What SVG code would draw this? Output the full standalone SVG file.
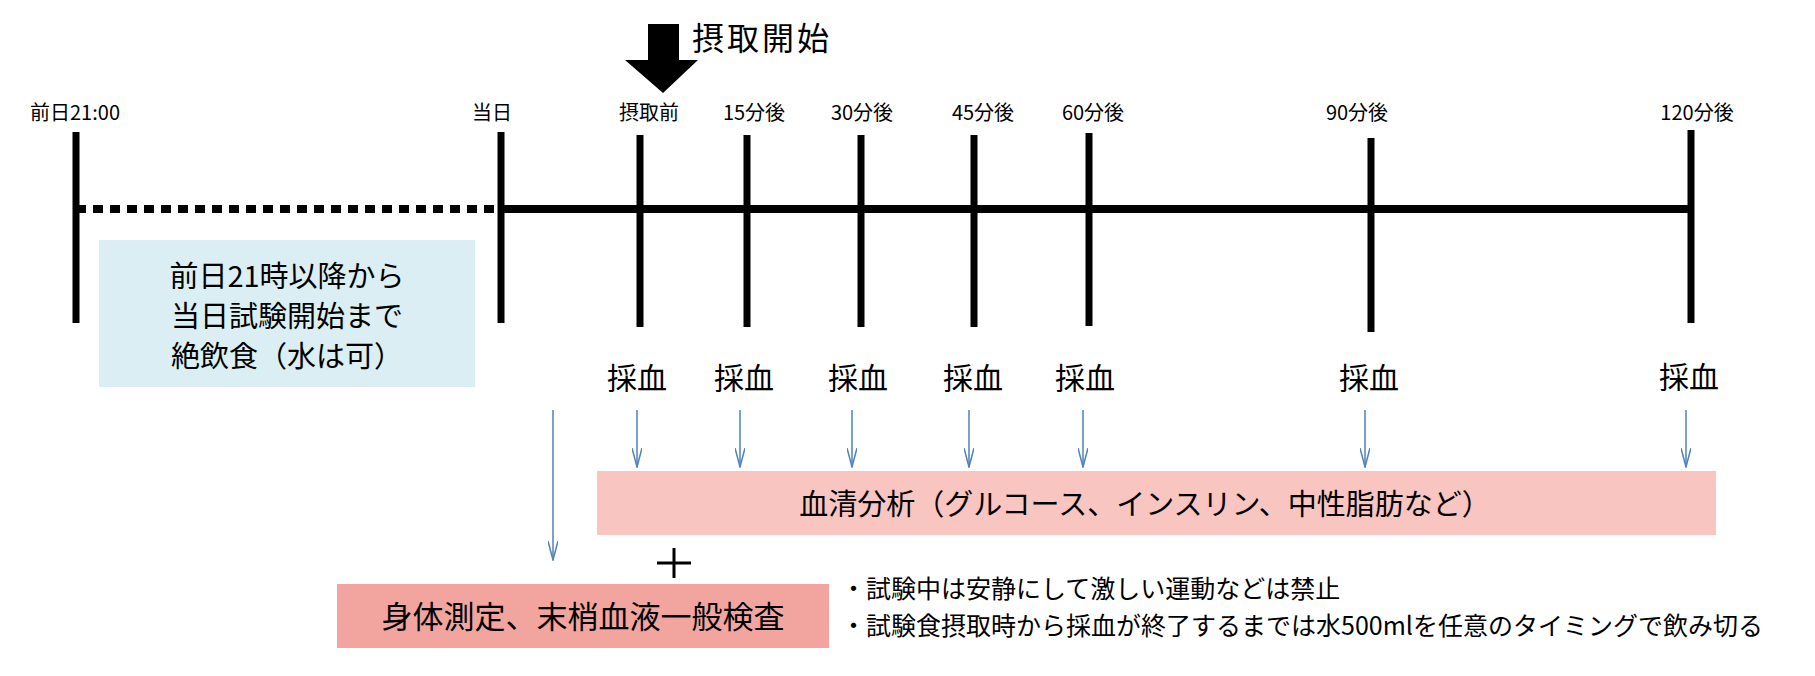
<svg xmlns="http://www.w3.org/2000/svg" width="1815" height="676" viewBox="0 0 1815 676">
<style>
text{font-family:"Noto Sans CJK JP","Liberation Sans",sans-serif;fill:#000}
.lbl{font-size:20px;text-anchor:middle}
.sai{font-size:30px;text-anchor:middle}
.tick{stroke:#000;stroke-width:7}
.ba{stroke:#4F81BD;stroke-width:1.5;fill:none;marker-end:url(#v)}
</style>
<defs>
<marker id="v" markerWidth="20" markerHeight="10" refX="19" refY="5" orient="auto" markerUnits="userSpaceOnUse" viewBox="0 0 20 10">
<path d="M0,0 L19,5 L0,10" fill="none" stroke="#4F81BD" stroke-width="1.5"/>
</marker>
</defs>
<rect width="1815" height="676" fill="#fff"/>
<g id="connectors">
<line x1="76" y1="209" x2="501" y2="209" stroke="#000" stroke-width="8" stroke-dasharray="10,7"/>
<line x1="501" y1="209" x2="1691" y2="209" stroke="#000" stroke-width="8"/>
<line class="tick" x1="76" y1="132" x2="76" y2="323"/>
<line class="tick" x1="501" y1="132" x2="501" y2="323"/>
<line class="tick" x1="640" y1="135" x2="640" y2="327"/>
<line class="tick" x1="747" y1="135" x2="747" y2="327"/>
<line class="tick" x1="861" y1="135" x2="861" y2="327"/>
<line class="tick" x1="974" y1="135" x2="974" y2="327"/>
<line class="tick" x1="1089" y1="133" x2="1089" y2="326"/>
<line class="tick" x1="1371" y1="138" x2="1371" y2="332"/>
<line class="tick" x1="1691" y1="130" x2="1691" y2="323"/>
<path d="M648,24 H679 V60 H698 L663,93 L625,60 H648 Z" fill="#000"/>
<line class="ba" x1="553" y1="410" x2="553" y2="560"/>
<line class="ba" x1="637" y1="410" x2="637" y2="467"/>
<line class="ba" x1="740" y1="410" x2="740" y2="467"/>
<line class="ba" x1="852" y1="410" x2="852" y2="467"/>
<line class="ba" x1="969" y1="410" x2="969" y2="467"/>
<line class="ba" x1="1083" y1="410" x2="1083" y2="467"/>
<line class="ba" x1="1365" y1="410" x2="1365" y2="467"/>
<line class="ba" x1="1686" y1="410" x2="1686" y2="467"/>
</g>
<g id="labels">
<text class="lbl" x="75" y="120">前日21:00</text>
<text class="lbl" x="492" y="120">当日</text>
<text class="lbl" x="649" y="120">摂取前</text>
<text class="lbl" x="754" y="120">15分後</text>
<text class="lbl" x="862" y="120">30分後</text>
<text class="lbl" x="983" y="120">45分後</text>
<text class="lbl" x="1093" y="120">60分後</text>
<text class="lbl" x="1357" y="120">90分後</text>
<text class="lbl" x="1697" y="120">120分後</text>
<text x="692" y="50" font-size="32" letter-spacing="3">摂取開始</text>
<text class="sai" x="637" y="389">採血</text>
<text class="sai" x="744" y="389">採血</text>
<text class="sai" x="858" y="389">採血</text>
<text class="sai" x="973" y="389">採血</text>
<text class="sai" x="1085" y="389">採血</text>
<text class="sai" x="1369" y="389">採血</text>
<text class="sai" x="1689" y="388">採血</text>
</g>
<g id="fasting">
<rect x="99" y="240" width="376" height="147" fill="#DAEEF3"/>
<text font-size="29" text-anchor="middle"><tspan x="287" y="287">前日21時以降から</tspan><tspan x="287" y="327">当日試験開始まで</tspan><tspan x="287" y="367">絶飲食（水は可）</tspan></text>
</g>
<g id="serum">
<rect x="597" y="471" width="1119" height="64" fill="#F9C5C1"/>
<text x="1145" y="515" font-size="29" text-anchor="middle">血清分析（グルコース、インスリン、中性脂肪など）</text>
</g>
<g id="plus">
<line x1="674" y1="548" x2="674" y2="578" stroke="#000" stroke-width="3"/>
<line x1="657" y1="563" x2="691" y2="563" stroke="#000" stroke-width="3"/>
</g>
<g id="body">
<rect x="337" y="584" width="492" height="64" fill="#F2A59E"/>
<text x="583" y="628" font-size="31" text-anchor="middle">身体測定、末梢血液一般検査</text>
</g>
<g id="notes">
<text x="841" y="598" font-size="25">・試験中は安静にして激しい運動などは禁止</text>
<text x="841" y="635" font-size="25">・試験食摂取時から採血が終了するまでは水500mlを任意のタイミングで飲み切る</text>
</g>
</svg>
